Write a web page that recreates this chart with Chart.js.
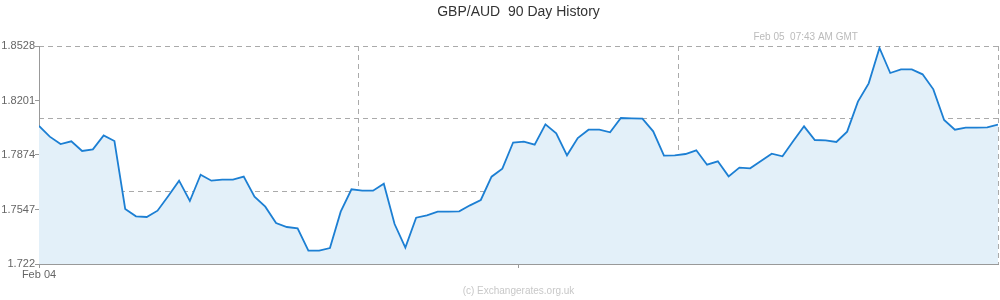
<!DOCTYPE html>
<html lang="en">
<head>
<meta charset="UTF-8">
<title>GBP/AUD 90 Day History</title>
<script src="https://cdn.jsdelivr.net/npm/chart.js"></script>
<style>
  html, body { margin: 0; padding: 0; background: #fff; }
  #wrap { width: 1000px; height: 300px; }
</style>
</head>
<body>
<div id="wrap"><canvas id="rateChart"></canvas></div>
<script>
// GBP/AUD daily closes (90 days)
const rates = [
  1.8048, 1.7984, 1.7940, 1.7956, 1.7898, 1.7908, 1.7992, 1.7958, 1.7550, 1.7506,
  1.7502, 1.7540, 1.7628, 1.7720, 1.7598, 1.7756, 1.7720, 1.7726, 1.7726, 1.7744,
  1.7624, 1.7564, 1.7466, 1.7442, 1.7434, 1.7300, 1.7300, 1.7316, 1.7534, 1.7668,
  1.7660, 1.7660, 1.7702, 1.7460, 1.7318, 1.7498, 1.7512, 1.7534, 1.7534, 1.7536,
  1.7572, 1.7604, 1.7744, 1.7792, 1.7949, 1.7954, 1.7936, 1.8058, 1.8004, 1.7872,
  1.7976, 1.8026, 1.8026, 1.8010, 1.8096, 1.8094, 1.8092, 1.8016, 1.7870, 1.7872,
  1.7880, 1.7902, 1.7816, 1.7836, 1.7746, 1.7798, 1.7794, 1.7838, 1.7882, 1.7866,
  1.7958, 1.8046, 1.7964, 1.7962, 1.7952, 1.8014, 1.8194, 1.8304, 1.8516, 1.8366,
  1.8388, 1.8388, 1.8358, 1.8268, 1.8084, 1.8026, 1.8038, 1.8038, 1.8040, 1.8056
];

const yTicks = [1.722, 1.7547, 1.7874, 1.8201, 1.8528];
const yMin = 1.722, yMax = 1.8528;

// bottom axis: day positions and labels
const xBottomTicks = [0, 44.5];
const xBottomLabels = ['Feb 04', ''];
// top axis: last update stamp
const xTopTicks = [71.15];
const xTopLabels = ['Feb 05  07:43 AM GMT'];

Chart.defaults.font.family = "'Liberation Sans', Arial, sans-serif";
Chart.defaults.font.size = 11;

const lastDay = rates.length - 1;
const points = rates.map((v, i) => ({ x: i, y: v }));
const dashColor = ctx => ctx.index === 0 ? 'rgba(0,0,0,0)' : '#aaaaaa';

new Chart(document.getElementById('rateChart'), {
  type: 'line',
  data: {
    datasets: [{
      data: points,
      borderColor: '#1c7fd3',
      borderWidth: 1.8,
      backgroundColor: '#e3f0f9',
      fill: 'start',
      tension: 0,
      pointRadius: 0
    }]
  },
  options: {
    responsive: true,
    maintainAspectRatio: false,
    animation: false,
    layout: { padding: { left: 0, right: 2, top: 0, bottom: 0 } },
    plugins: {
      legend: { display: false },
      tooltip: { enabled: false },
      title: {
        display: true,
        text: 'GBP/AUD  90 Day History',
        fullSize: false,
        color: '#333333',
        font: { size: 14, weight: 'normal' },
        padding: { top: 4, bottom: 0 }
      },
      subtitle: {
        display: true,
        position: 'bottom',
        text: '(c) Exchangerates.org.uk',
        fullSize: false,
        color: '#c8c8c8',
        font: { size: 10 },
        padding: { top: 0, bottom: 3 }
      }
    },
    scales: {
      x: {
        type: 'linear',
        position: 'bottom',
        min: 0,
        max: lastDay,
        afterBuildTicks: s => { s.ticks = xBottomTicks.map(v => ({ value: v })); },
        afterFit: s => { s.height = 21; },
        ticks: {
          callback: (v, i) => xBottomLabels[i],
          color: '#666666',
          padding: 0,
          maxRotation: 0,
          autoSkip: false
        },
        grid: { drawOnChartArea: false, tickLength: 4, color: '#999999' },
        border: { color: '#999999' }
      },
      xTop: {
        type: 'linear',
        position: 'top',
        min: 0,
        max: lastDay,
        afterBuildTicks: s => { s.ticks = xTopTicks.map(v => ({ value: v })); },
        afterFit: s => { s.height = 25.2; },
        ticks: {
          callback: (v, i) => xTopLabels[i],
          color: '#bbbbbb',
          font: { size: 10 },
          padding: 3,
          maxRotation: 0,
          autoSkip: false
        },
        grid: { display: false, drawTicks: false },
        border: { display: false }
      },
      gx: {
        type: 'linear',
        position: 'top',
        min: 0,
        max: 3,
        afterFit: s => { s.height = 0; },
        ticks: { display: false, stepSize: 1 },
        grid: { drawTicks: false, color: dashColor },
        border: { display: false, dash: [5, 4] }
      },
      y: {
        min: yMin,
        max: yMax,
        afterBuildTicks: s => { s.ticks = yTicks.map(v => ({ value: v })); },
        afterFit: s => { s.width = 39; },
        ticks: {
          callback: v => String(v),
          color: '#666666',
          padding: 0
        },
        grid: { drawOnChartArea: false, tickLength: 4, color: '#999999' },
        border: { color: '#999999' }
      },
      gy: {
        type: 'linear',
        position: 'right',
        min: 0,
        max: 3,
        afterFit: s => { s.width = 0; },
        ticks: { display: false, stepSize: 1 },
        grid: { drawTicks: false, color: dashColor },
        border: { display: false, dash: [5, 4] }
      }
    }
  }
});
</script>
</body>
</html>
